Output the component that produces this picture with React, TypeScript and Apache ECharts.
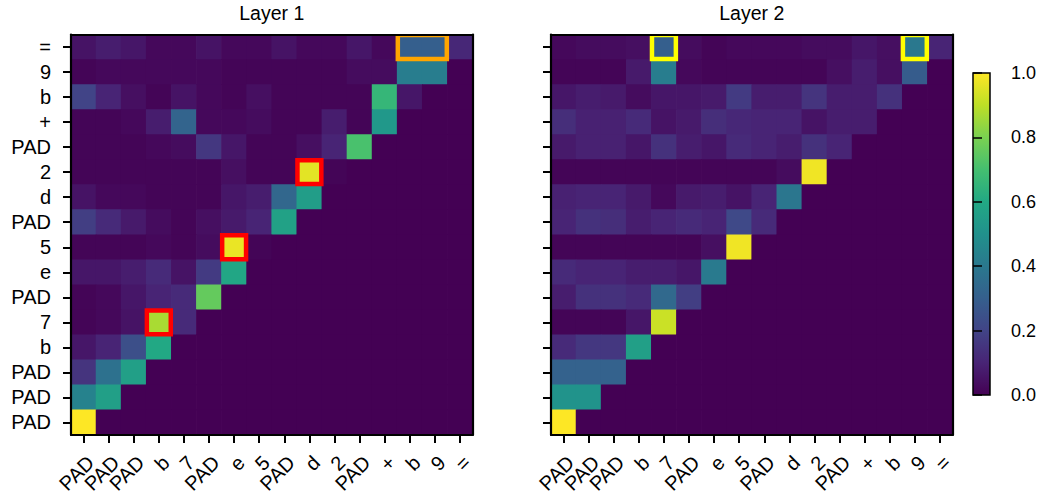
import React, { useEffect, useRef } from "react";
import * as echarts from "echarts";

// Key tokens along the x axis (left to right)
const xLabels = ["PAD", "PAD", "PAD", "b", "7", "PAD", "e", "5", "PAD", "d", "2", "PAD", "+", "b", "9", "="];
// Query tokens along the y axis (top to bottom)
const yLabels = ["=", "9", "b", "+", "PAD", "2", "d", "PAD", "5", "e", "PAD", "7", "b", "PAD", "PAD", "PAD"];

// Attention weights, one row per query token (top to bottom), one column per key token
const layer1Weights = [
  [0.05, 0.08, 0.06, 0.02, 0.02, 0.05, 0.02, 0.02, 0.05, 0.02, 0.02, 0.06, 0.02, 0.30, 0.30, 0.11],
  [0.01, 0.02, 0.02, 0.02, 0.02, 0.02, 0.01, 0.01, 0.01, 0.01, 0.01, 0.03, 0.03, 0.42, 0.42, 0.00],
  [0.20, 0.10, 0.04, 0.01, 0.05, 0.02, 0.01, 0.04, 0.01, 0.01, 0.01, 0.01, 0.66, 0.06, 0.00, 0.00],
  [0.01, 0.01, 0.02, 0.08, 0.32, 0.02, 0.02, 0.03, 0.01, 0.01, 0.08, 0.01, 0.53, 0.00, 0.00, 0.00],
  [0.01, 0.01, 0.01, 0.02, 0.03, 0.16, 0.06, 0.01, 0.01, 0.04, 0.10, 0.71, 0.00, 0.00, 0.00, 0.00],
  [0.01, 0.01, 0.01, 0.01, 0.01, 0.01, 0.04, 0.01, 0.01, 0.96, 0.01, 0.00, 0.00, 0.00, 0.00, 0.00],
  [0.05, 0.02, 0.02, 0.01, 0.01, 0.01, 0.06, 0.08, 0.33, 0.55, 0.00, 0.00, 0.00, 0.00, 0.00, 0.00],
  [0.18, 0.12, 0.07, 0.03, 0.01, 0.04, 0.07, 0.10, 0.57, 0.00, 0.00, 0.00, 0.00, 0.00, 0.00, 0.00],
  [0.01, 0.01, 0.01, 0.02, 0.01, 0.03, 0.97, 0.01, 0.00, 0.00, 0.00, 0.00, 0.00, 0.00, 0.00, 0.00],
  [0.06, 0.06, 0.08, 0.12, 0.05, 0.17, 0.59, 0.00, 0.00, 0.00, 0.00, 0.00, 0.00, 0.00, 0.00, 0.00],
  [0.01, 0.02, 0.06, 0.10, 0.12, 0.76, 0.00, 0.00, 0.00, 0.00, 0.00, 0.00, 0.00, 0.00, 0.00, 0.00],
  [0.01, 0.02, 0.05, 0.87, 0.12, 0.00, 0.00, 0.00, 0.00, 0.00, 0.00, 0.00, 0.00, 0.00, 0.00, 0.00],
  [0.06, 0.10, 0.24, 0.60, 0.00, 0.00, 0.00, 0.00, 0.00, 0.00, 0.00, 0.00, 0.00, 0.00, 0.00, 0.00],
  [0.15, 0.37, 0.56, 0.00, 0.00, 0.00, 0.00, 0.00, 0.00, 0.00, 0.00, 0.00, 0.00, 0.00, 0.00, 0.00],
  [0.44, 0.56, 0.00, 0.00, 0.00, 0.00, 0.00, 0.00, 0.00, 0.00, 0.00, 0.00, 0.00, 0.00, 0.00, 0.00],
  [1.00, 0.00, 0.00, 0.00, 0.00, 0.00, 0.00, 0.00, 0.00, 0.00, 0.00, 0.00, 0.00, 0.00, 0.00, 0.00],
];

const layer2Weights = [
  [0.02, 0.03, 0.03, 0.04, 0.30, 0.03, 0.01, 0.02, 0.02, 0.02, 0.03, 0.03, 0.06, 0.04, 0.40, 0.10],
  [0.01, 0.01, 0.01, 0.07, 0.42, 0.02, 0.01, 0.01, 0.01, 0.01, 0.01, 0.04, 0.08, 0.04, 0.29, 0.00],
  [0.06, 0.08, 0.07, 0.03, 0.06, 0.06, 0.07, 0.17, 0.08, 0.08, 0.15, 0.08, 0.08, 0.14, 0.00, 0.00],
  [0.13, 0.09, 0.09, 0.12, 0.05, 0.07, 0.13, 0.11, 0.10, 0.10, 0.05, 0.08, 0.08, 0.00, 0.00, 0.00],
  [0.07, 0.09, 0.09, 0.06, 0.14, 0.08, 0.06, 0.12, 0.10, 0.08, 0.14, 0.10, 0.00, 0.00, 0.00, 0.00],
  [0.01, 0.01, 0.01, 0.01, 0.01, 0.01, 0.01, 0.01, 0.01, 0.03, 0.98, 0.00, 0.00, 0.00, 0.00, 0.00],
  [0.09, 0.10, 0.10, 0.07, 0.02, 0.07, 0.08, 0.05, 0.10, 0.39, 0.00, 0.00, 0.00, 0.00, 0.00, 0.00],
  [0.10, 0.14, 0.13, 0.08, 0.10, 0.12, 0.10, 0.22, 0.12, 0.00, 0.00, 0.00, 0.00, 0.00, 0.00, 0.00],
  [0.01, 0.01, 0.01, 0.01, 0.01, 0.01, 0.04, 0.98, 0.00, 0.00, 0.00, 0.00, 0.00, 0.00, 0.00, 0.00],
  [0.12, 0.10, 0.10, 0.08, 0.08, 0.06, 0.41, 0.00, 0.00, 0.00, 0.00, 0.00, 0.00, 0.00, 0.00, 0.00],
  [0.08, 0.14, 0.14, 0.12, 0.34, 0.18, 0.00, 0.00, 0.00, 0.00, 0.00, 0.00, 0.00, 0.00, 0.00, 0.00],
  [0.01, 0.01, 0.01, 0.06, 0.92, 0.00, 0.00, 0.00, 0.00, 0.00, 0.00, 0.00, 0.00, 0.00, 0.00, 0.00],
  [0.12, 0.16, 0.16, 0.56, 0.00, 0.00, 0.00, 0.00, 0.00, 0.00, 0.00, 0.00, 0.00, 0.00, 0.00, 0.00],
  [0.31, 0.31, 0.31, 0.00, 0.00, 0.00, 0.00, 0.00, 0.00, 0.00, 0.00, 0.00, 0.00, 0.00, 0.00, 0.00],
  [0.51, 0.51, 0.00, 0.00, 0.00, 0.00, 0.00, 0.00, 0.00, 0.00, 0.00, 0.00, 0.00, 0.00, 0.00, 0.00],
  [1.00, 0.00, 0.00, 0.00, 0.00, 0.00, 0.00, 0.00, 0.00, 0.00, 0.00, 0.00, 0.00, 0.00, 0.00, 0.00],
];

// Highlight boxes: [first column, last column, row]
const layer1Boxes = [
  [9, 9, 5],
  [6, 6, 8],
  [3, 3, 11],
  [13, 14, 0],
];
const layer1BoxColors = ["#ff0000", "#ff0000", "#ff0000", "#ffa500"];
const layer2Boxes = [
  [4, 4, 0],
  [14, 14, 0],
];
const layer2BoxColors = ["#ffff00", "#ffff00"];

const panelTitles = ["Layer 1", "Layer 2"];

const viridis = [
  "#440154", "#482475", "#414487", "#355f8d", "#2a788e", "#21918c",
  "#22a884", "#44bf70", "#7ad151", "#bddf26", "#fde725",
];

const FONT = "'Liberation Sans', Arial, Helvetica, sans-serif";

const toCells = (m: number[][]) => m.flatMap((row, r) => row.map((v, c) => [c, r, v]));

// One heatmap cell; cells overlap by a fraction of a pixel so no seams show between them
const cellRenderer = (_params: any, api: any) => {
  const p = api.coord([api.value(0), api.value(1)]);
  const s = api.size([1, 1]);
  const pad = 0.35;
  return {
    type: "rect",
    shape: {
      x: p[0] - s[0] / 2 - pad,
      y: p[1] - s[1] / 2 - pad,
      width: s[0] + 2 * pad,
      height: s[1] + 2 * pad,
    },
    style: { fill: api.visual("color") },
  };
};

const boxRenderer = (colors: string[]) => (params: any, api: any) => {
  const x0 = api.value(0);
  const x1 = api.value(1);
  const y = api.value(2);
  const a = api.coord([x0, y]);
  const b = api.coord([x1, y]);
  const size = api.size([1, 1]);
  const w = size[0];
  const h = size[1];
  const inset = 0.6;
  return {
    type: "rect",
    shape: {
      x: a[0] - w / 2 + inset,
      y: a[1] - h / 2 + inset,
      width: b[0] - a[0] + w - 2 * inset,
      height: h - 2 * inset,
    },
    style: { fill: "none", stroke: colors[params.dataIndex], lineWidth: 4.5 },
  };
};

const colorbarRenderer = (_params: any, api: any) => {
  const p0 = api.coord([0, 0]);
  const p1 = api.coord([1, 1]);
  return {
    type: "rect",
    shape: { x: p0[0], y: p1[1], width: p1[0] - p0[0], height: p0[1] - p1[1] },
    style: {
      fill: new echarts.graphic.LinearGradient(
        0, 1, 0, 0,
        viridis.map((c, i) => ({ offset: i / (viridis.length - 1), color: c }))
      ),
      stroke: "#000",
      lineWidth: 1.5,
    },
  };
};

const frameLine = { show: true, onZero: false, lineStyle: { color: "#000", width: 2.2 } };
const catTick = { show: true, alignWithLabel: true, interval: 0, length: 8, lineStyle: { color: "#000", width: 2 } };

function buildOption() {
  const panelLefts = [71, 551];
  const grid = [
    { left: panelLefts[0], top: 34.5, width: 401.5, height: 400.5, outerBoundsMode: "none" },
    { left: panelLefts[1], top: 34.5, width: 401.5, height: 400.5, outerBoundsMode: "none" },
    { left: 973, top: 73, width: 17, height: 322, outerBoundsMode: "none" },
  ];

  const xAxis: any[] = [];
  const yAxis: any[] = [];
  [0, 1].forEach((g) => {
    xAxis.push({
      type: "category",
      gridIndex: g,
      position: "bottom",
      data: xLabels,
      z: 10,
      axisLine: frameLine,
      axisTick: catTick,
      axisLabel: {
        interval: 0,
        rotate: 45,
        align: "right",
        verticalAlign: "top",
        margin: 17,
        color: "#000",
        fontSize: 20,
        fontFamily: FONT,
      },
      splitLine: { show: false },
    });
    xAxis.push({
      type: "category",
      gridIndex: g,
      position: "top",
      data: xLabels,
      z: 10,
      axisLine: frameLine,
      axisTick: { show: false },
      axisLabel: { show: false },
      splitLine: { show: false },
      name: panelTitles[g],
      nameLocation: "middle",
      nameGap: 11.5,
      nameTextStyle: { color: "#000", fontSize: 19.5, fontFamily: FONT },
    });
    yAxis.push({
      type: "category",
      gridIndex: g,
      position: "left",
      data: yLabels,
      inverse: true,
      z: 10,
      axisLine: frameLine,
      axisTick: catTick,
      axisLabel: {
        show: g === 0,
        interval: 0,
        margin: 20,
        color: "#000",
        fontSize: 20,
        fontFamily: FONT,
      },
      splitLine: { show: false },
    });
    yAxis.push({
      type: "category",
      gridIndex: g,
      position: "right",
      data: yLabels,
      inverse: true,
      z: 10,
      axisLine: frameLine,
      axisTick: { show: false },
      axisLabel: { show: false },
      splitLine: { show: false },
    });
  });

  // Colorbar axes
  xAxis.push({
    type: "value",
    gridIndex: 2,
    min: 0,
    max: 1,
    show: false,
  });
  yAxis.push({
    type: "value",
    gridIndex: 2,
    position: "right",
    min: 0,
    max: 1,
    interval: 0.2,
    z: 10,
    axisLine: { show: false },
    axisTick: { show: true, length: 9, lineStyle: { color: "#000", width: 1.5 } },
    axisLabel: {
      margin: 21,
      color: "#000",
      fontSize: 18,
      fontFamily: FONT,
      formatter: (v: number) => v.toFixed(1),
    },
    splitLine: { show: false },
  });

  const cellSeries = (weights: number[][], xi: number, yi: number) => ({
    type: "custom",
    xAxisIndex: xi,
    yAxisIndex: yi,
    clip: true,
    z: 2,
    dimensions: ["key", "query", "weight"],
    encode: { x: 0, y: 1 },
    renderItem: cellRenderer,
    data: toCells(weights),
    silent: true,
  });

  return {
    animation: false,
    textStyle: { fontFamily: FONT },
    grid,
    xAxis,
    yAxis,
    visualMap: {
      type: "continuous",
      show: false,
      min: 0,
      max: 1,
      dimension: 2,
      seriesIndex: [0, 1],
      inRange: { color: viridis },
    },
    series: [
      cellSeries(layer1Weights, 0, 0),
      cellSeries(layer2Weights, 2, 2),
      {
        type: "custom",
        xAxisIndex: 0,
        yAxisIndex: 0,
        clip: true,
        z: 5,
        encode: { x: [0, 1], y: 2 },
        renderItem: boxRenderer(layer1BoxColors),
        data: layer1Boxes,
        silent: true,
      },
      {
        type: "custom",
        xAxisIndex: 2,
        yAxisIndex: 2,
        clip: true,
        z: 5,
        encode: { x: [0, 1], y: 2 },
        renderItem: boxRenderer(layer2BoxColors),
        data: layer2Boxes,
        silent: true,
      },
      {
        type: "custom",
        xAxisIndex: 4,
        yAxisIndex: 4,
        z: 2,
        renderItem: colorbarRenderer,
        data: [[0, 0]],
        silent: true,
      },
    ],
  };
}

export default function App() {
  const ref = useRef<HTMLDivElement>(null);
  useEffect(() => {
    if (!ref.current) return;
    const chart = echarts.init(ref.current, undefined, { renderer: "svg" });
    chart.setOption(buildOption() as any);
    return () => chart.dispose();
  }, []);
  return (
    <div
      ref={ref}
      style={{ position: "fixed", left: 0, top: 0, width: 1044, height: 498, background: "#fff" }}
    />
  );
}
